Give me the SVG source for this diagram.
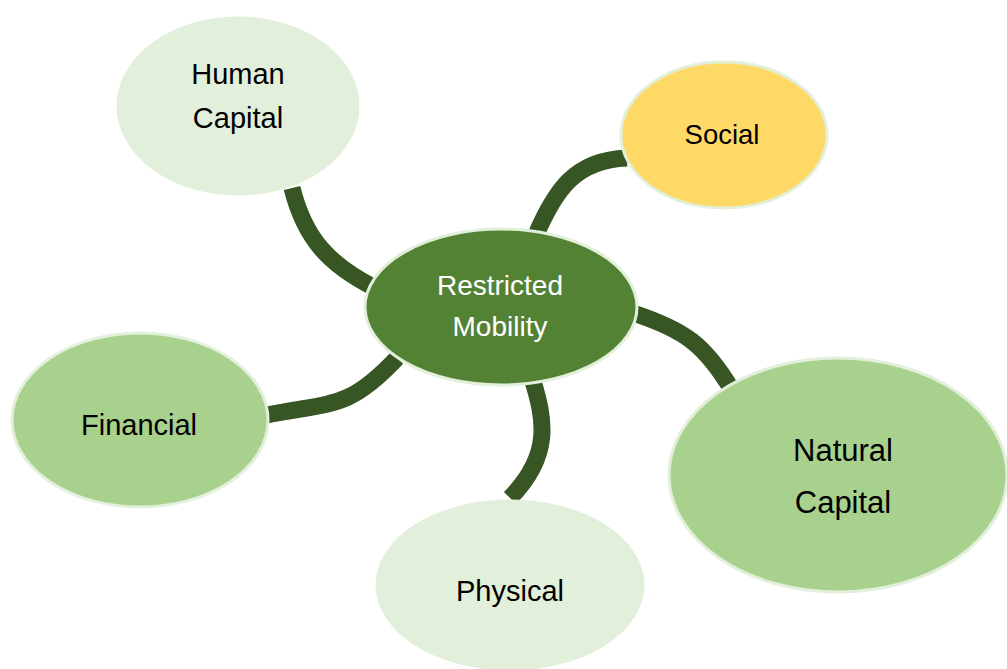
<svg xmlns="http://www.w3.org/2000/svg" width="1007" height="669" viewBox="0 0 1007 669">
  <style>
    .link { fill: none; stroke: #375623; stroke-width: 17; stroke-linecap: butt; }
    .node { stroke: #E2EFDA; stroke-width: 3; }
    .label { font-family: "Liberation Sans", Arial, sans-serif; font-size: 29px; text-anchor: middle; fill: #000000; }
  </style>
  <rect width="1007" height="669" fill="#FFFFFF"/>
  <g id="connectors">
    <path class="link" d="M292,188 C305,240 330,265 375,288"/>
    <path class="link" d="M627,158 C575,160 555,190 535,237"/>
    <path class="link" d="M633,313 C685,330 705,345 732,390"/>
    <path class="link" d="M267,415 C335,402 350,408 397,358"/>
    <path class="link" d="M532,378 C545,420 552,455 510,498"/>
  </g>
  <g id="human-capital">
    <ellipse class="node" cx="238" cy="106" rx="120" ry="88" fill="#E2EFDA"/>
    <text class="label" x="238" y="84">Human</text>
    <text class="label" x="238" y="128">Capital</text>
  </g>
  <g id="social">
    <ellipse class="node" cx="724" cy="135" rx="103" ry="73" fill="#FFD966"/>
    <text class="label" x="722" y="144" style="font-size:27.5px">Social</text>
  </g>
  <g id="natural-capital">
    <ellipse class="node" cx="838" cy="475" rx="169" ry="117" fill="#A9D18E"/>
    <text class="label" x="843" y="461" style="font-size:31px">Natural</text>
    <text class="label" x="843" y="513" style="font-size:31px">Capital</text>
  </g>
  <g id="financial">
    <ellipse class="node" cx="140" cy="420" rx="128" ry="87" fill="#A9D18E"/>
    <text class="label" x="139" y="435">Financial</text>
  </g>
  <g id="physical">
    <ellipse class="node" cx="510" cy="585" rx="133" ry="84" fill="#E2EFDA"/>
    <text class="label" x="510" y="601">Physical</text>
  </g>
  <g id="restricted-mobility">
    <ellipse class="node" cx="501" cy="307" rx="136" ry="78" fill="#548235"/>
    <text class="label" x="500" y="295" style="font-size:28px;fill:#FFFFFF">Restricted</text>
    <text class="label" x="500" y="336" style="font-size:28px;fill:#FFFFFF">Mobility</text>
  </g>
</svg>
